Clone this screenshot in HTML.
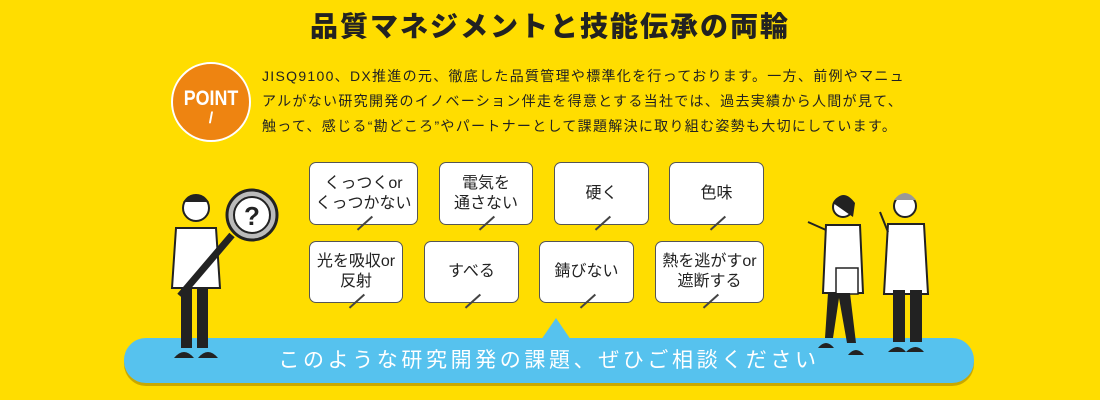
<!DOCTYPE html>
<html><head><meta charset="utf-8"><style>
*{margin:0;padding:0;box-sizing:border-box}
body{width:1100px;height:400px;background:#ffdd00;position:relative;overflow:hidden;font-family:"Liberation Sans","Noto Sans CJK JP",sans-serif;color:#222}
.t{position:absolute;left:0;width:1100px;top:5px;text-align:center;font-size:28px;font-weight:900;letter-spacing:2px}
.point{position:absolute;left:171px;top:62px;width:80px;height:80px;border-radius:50%;background:#ee8411;border:2px solid #fff;color:#fff;text-align:center;font-weight:bold;font-size:21px;line-height:1;font-family:"Liberation Sans Narrow","Liberation Sans",sans-serif}
.p{position:absolute;left:262px;top:64px;font-size:14px;line-height:25px;letter-spacing:1.3px;white-space:nowrap}
.b{position:absolute;background:#fff;border:1.5px solid #555;border-radius:7px;display:flex;align-items:center;justify-content:center;text-align:center;font-size:16px;line-height:20px}
.b:after{content:"";position:absolute;left:50%;bottom:-9px;width:1.5px;height:20px;background:#444;transform:rotate(48deg)}
.ban{position:absolute;left:124px;top:338px;width:850px;height:45px;background:#56c2ee;border-radius:22px;box-shadow:0 3px 0 #c9a800;color:#fff;font-size:21px;text-align:center;line-height:45px;letter-spacing:3.6px}
.tri{position:absolute;left:541px;top:318px;width:0;height:0;border-left:15px solid transparent;border-right:15px solid transparent;border-bottom:22px solid #56c2ee}
</style></head><body>
<div class="t">品質マネジメントと技能伝承の両輪</div>
<div class="point"><div style="margin-top:24px;letter-spacing:0px;transform:scaleX(.85)">POINT</div><div style="font-size:16px;margin-top:2px">/</div></div>
<div class="p">JISQ9100、DX推進の元、徹底した品質管理や標準化を行っております。一方、前例やマニュ<br>アルがない研究開発のイノベーション伴走を得意とする当社では、過去実績から人間が見て、<br>触って、感じる“勘どころ”やパートナーとして課題解決に取り組む姿勢も大切にしています。</div>
<div class="b" style="left:309px;top:162px;width:109px;height:63px">くっつくor<br>くっつかない</div>
<div class="b" style="left:439px;top:162px;width:94px;height:63px">電気を<br>通さない</div>
<div class="b" style="left:554px;top:162px;width:95px;height:63px">硬く</div>
<div class="b" style="left:669px;top:162px;width:95px;height:63px">色味</div>
<div class="b" style="left:309px;top:241px;width:94px;height:62px">光を吸収or<br>反射</div>
<div class="b" style="left:424px;top:241px;width:95px;height:62px">すべる</div>
<div class="b" style="left:539px;top:241px;width:95px;height:62px">錆びない</div>
<div class="b" style="left:655px;top:241px;width:109px;height:62px">熱を逃がすor<br>遮断する</div>
<div class="tri"></div>
<div class="ban">このような研究開発の課題、ぜひご相談ください</div>
<svg style="position:absolute;left:0;top:0" width="1100" height="400">
<circle cx="196" cy="208" r="13" fill="#fff" stroke="#222" stroke-width="2"/>
<path d="M183 202 q13 -15 26 0 z" fill="#222"/>
<path d="M176 228 h40 l4 60 h-48 z" fill="#fff" stroke="#222" stroke-width="2"/>
<rect x="181" y="288" width="11" height="60" fill="#222"/><rect x="197" y="288" width="11" height="60" fill="#222"/>
<path d="M174 358 q10 -12 20 0 z M198 358 q10 -12 20 0 z" fill="#222"/>
<line x1="180" y1="296" x2="232" y2="235" stroke="#222" stroke-width="7"/>
<circle cx="252" cy="215" r="25" fill="#bbb" stroke="#222" stroke-width="3"/>
<circle cx="252" cy="215" r="18" fill="#fff" stroke="#222" stroke-width="2"/>
<text x="252" y="225" font-size="26" font-weight="bold" text-anchor="middle" fill="#222" font-family="Liberation Sans">?</text>
<circle cx="843" cy="207" r="10" fill="#fff" stroke="#222" stroke-width="2"/>
<path d="M833 203 q10 -16 22 0 l-2 14 z" fill="#222"/>
<path d="M826 225 h34 l3 68 h-40 z" fill="#fff" stroke="#222" stroke-width="2"/>
<rect x="836" y="268" width="22" height="26" fill="#fff" stroke="#222" stroke-width="1.5"/>
<path d="M828 293 l-3 45 h8 l6 -40 l8 45 h9 l-6 -50 z" fill="#222"/>
<path d="M818 348 q8 -10 16 0 z M848 355 q8 -10 16 0 z" fill="#222"/>
<line x1="826" y1="230" x2="808" y2="222" stroke="#222" stroke-width="2"/>
<circle cx="905" cy="206" r="11" fill="#fff" stroke="#222" stroke-width="2"/>
<path d="M894 200 q11 -14 22 0 z" fill="#999"/>
<path d="M888 224 h36 l4 70 h-44 z" fill="#fff" stroke="#222" stroke-width="2"/>
<rect x="893" y="290" width="12" height="52" fill="#222"/><rect x="910" y="290" width="12" height="52" fill="#222"/>
<path d="M888 352 q10 -10 18 0 z M906 352 q10 -10 18 0 z" fill="#222"/>
<line x1="888" y1="232" x2="880" y2="212" stroke="#222" stroke-width="2"/>
</svg>
</body></html>
